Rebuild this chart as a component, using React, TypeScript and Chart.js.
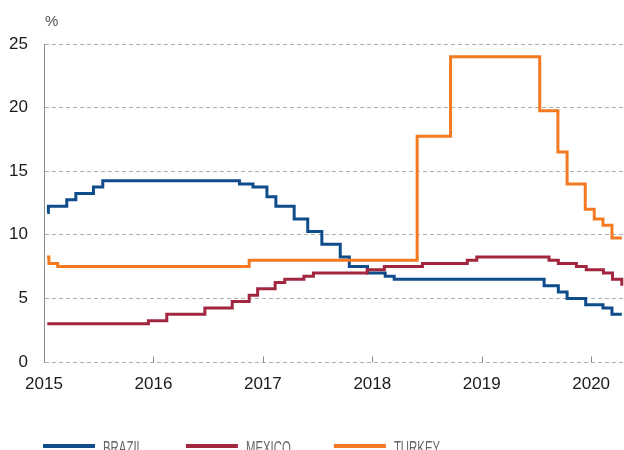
import { useEffect, useRef } from 'react';
import { Chart, registerables } from 'chart.js';

Chart.register(...registerables);

// Policy rates (%), change dates as decimal years
const brazilDates = [2015.03, 2015.04, 2015.208, 2015.291, 2015.452, 2015.537, 2016.786, 2016.91, 2017.037, 2017.119, 2017.286, 2017.41, 2017.539, 2017.707, 2017.79, 2017.956, 2018.118, 2018.2, 2019.57, 2019.70, 2019.78, 2019.95, 2020.108, 2020.19, 2020.28];
const brazilRates = [11.75, 12.25, 12.75, 13.25, 13.75, 14.25, 14.0, 13.75, 13.0, 12.25, 11.25, 10.25, 9.25, 8.25, 7.5, 7.0, 6.75, 6.5, 6.0, 5.5, 5.0, 4.5, 4.25, 3.75, 3.75];

const mexicoDates = [2015.03, 2015.954, 2016.122, 2016.47, 2016.72, 2016.875, 2016.952, 2017.112, 2017.2, 2017.375, 2017.462, 2017.953, 2018.11, 2018.458, 2018.868, 2018.955, 2019.615, 2019.70, 2019.865, 2019.955, 2020.112, 2020.195, 2020.28];
const mexicoRates = [3.0, 3.25, 3.75, 4.25, 4.75, 5.25, 5.75, 6.25, 6.5, 6.75, 7.0, 7.25, 7.5, 7.75, 8.0, 8.25, 8.0, 7.75, 7.5, 7.25, 7.0, 6.5, 6.0];

const turkeyDates = [2015.028, 2015.045, 2015.125, 2016.875, 2018.41, 2018.715, 2019.53, 2019.696, 2019.78, 2019.946, 2020.028, 2020.108, 2020.19, 2020.28];
const turkeyRates = [8.25, 7.75, 7.5, 8.0, 17.75, 24.0, 19.75, 16.5, 14.0, 12.0, 11.25, 10.75, 9.75, 9.75];

const seriesNames = ['BRAZIL', 'MEXICO', 'TURKEY'];
const seriesColors = ['#0e4c8b', '#a3263f', '#f47a22'];

const yearTicks = [2015, 2016, 2017, 2018, 2019, 2020];
const rateTicks = [0, 5, 10, 15, 20, 25];
const unitLabel = '%';

const FONT = "'Liberation Sans', Arial, Helvetica, sans-serif";

const toPoints = (d: number[], v: number[]) => d.map((x, i) => ({ x, y: v[i] }));

const decor = {
  id: 'decor',
  afterDraw(chart: any) {
    const { ctx, chartArea } = chart;
    const xs = chart.scales.x;
    const ys = chart.scales.y;
    ctx.save();
    // year tick marks pointing up
    ctx.strokeStyle = '#8a8a8a';
    ctx.lineWidth = 1;
    const y0 = Math.round(ys.getPixelForValue(0)) + 0.5;
    yearTicks.forEach((t) => {
      const px = Math.round(xs.getPixelForValue(t)) + 0.5;
      ctx.beginPath();
      ctx.moveTo(px, y0);
      ctx.lineTo(px, y0 - 6);
      ctx.stroke();
    });
    // unit label
    ctx.fillStyle = '#555';
    ctx.font = `15px ${FONT}`;
    ctx.textAlign = 'left';
    ctx.textBaseline = 'alphabetic';
    ctx.fillText(unitLabel, chartArea.left + 1, chartArea.top - 18);
    // legend
    let x = chartArea.left - 1;
    const ly = 446;
    const sx = 0.6;
    ctx.font = `19px ${FONT}`;
    seriesNames.forEach((name, i) => {
      ctx.strokeStyle = seriesColors[i];
      ctx.lineWidth = 4;
      ctx.beginPath();
      ctx.moveTo(x, ly);
      ctx.lineTo(x + 52, ly);
      ctx.stroke();
      const tx = x + 60;
      ctx.save();
      ctx.translate(tx, 0);
      ctx.scale(sx, 1);
      ctx.fillStyle = '#666';
      ctx.fillText(name, 0, 454);
      ctx.restore();
      const w = ctx.measureText(name).width * sx;
      x = tx + w + 43;
    });
    ctx.restore();
  },
};

export default function App() {
  const ref = useRef<HTMLCanvasElement>(null);
  useEffect(() => {
    if (!ref.current) return;
    const mk = (i: number, d: number[], v: number[], order: number) => ({
      label: seriesNames[i],
      data: toPoints(d, v),
      borderColor: seriesColors[i],
      backgroundColor: seriesColors[i],
      borderWidth: 3,
      pointRadius: 0,
      stepped: 'before' as const,
      fill: false,
      order,
      borderJoinStyle: 'miter' as const,
    });
    const chart = new Chart(ref.current, {
      type: 'line',
      data: {
        datasets: [
          mk(0, brazilDates, brazilRates, 3),
          mk(1, mexicoDates, mexicoRates, 2),
          mk(2, turkeyDates, turkeyRates, 1),
        ],
      },
      options: {
        responsive: false,
        animation: false,
        devicePixelRatio: 1,
        layout: { padding: { top: 44, left: 0, right: 0, bottom: 0 } },
        plugins: { legend: { display: false }, tooltip: { enabled: false } },
        scales: {
          x: {
            type: 'linear',
            min: 2015,
            max: 2020.3,
            afterBuildTicks: (s: any) => {
              s.ticks = yearTicks.map((v) => ({ value: v }));
            },
            ticks: {
              font: { family: FONT, size: 17 },
              color: '#1a1a1a',
              padding: 12,
              maxRotation: 0,
              autoSkip: false,
              callback: (v: any) => String(v),
            },
            grid: { display: false, drawTicks: false },
            border: { display: false },
            afterFit: (s: any) => {
              s.height = 88;
            },
          },
          y: {
            type: 'linear',
            min: 0,
            max: 25,
            afterBuildTicks: (s: any) => {
              s.ticks = rateTicks.map((v) => ({ value: v }));
            },
            ticks: {
              font: { family: FONT, size: 17 },
              color: '#1a1a1a',
              padding: 16,
            },
            grid: { color: '#b0b0b0', lineWidth: 1, drawTicks: false },
            border: { display: true, color: '#8a8a8a', width: 1, dash: [4, 3] },
            afterFit: (s: any) => {
              s.width = 44;
            },
          },
        },
      },
      plugins: [decor],
    });
    return () => chart.destroy();
  }, []);
  return (
    <div style={{ position: 'fixed', left: 0, top: 0, width: 624, height: 450, background: '#fff' }}>
      <canvas ref={ref} width={624} height={450} style={{ display: 'block' }} />
    </div>
  );
}
